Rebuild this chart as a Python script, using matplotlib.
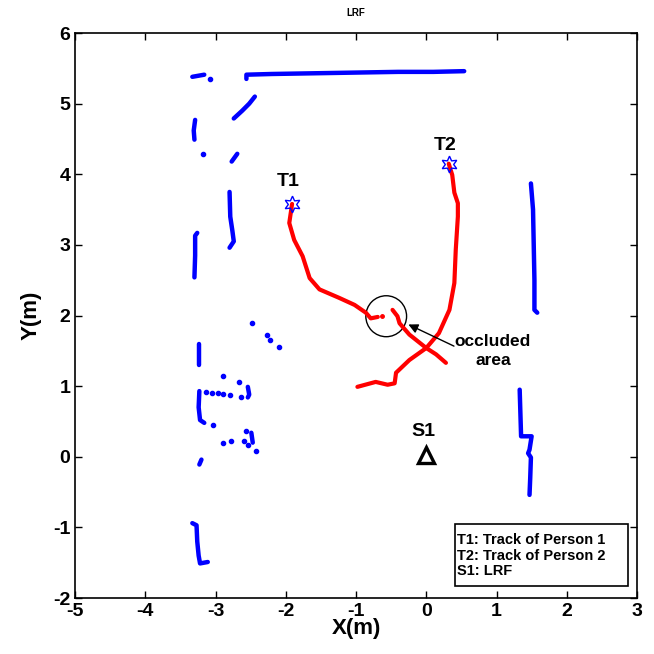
import numpy as np
from matplotlib import pyplot as plt
from matplotlib import patches as ptch

plt.rcParams["font.family"] = ["Liberation Sans", "DejaVu Sans"]
plt.rcParams["axes.unicode_minus"] = False

# laser scan of the walls (x, y in m), one list per visible piece
walls = [
    [(-2.56, 5.35), (-2.56, 5.41), (-2.2, 5.42), (-1.6, 5.43), (-1.0, 5.44), (-0.4, 5.45), (0.1, 5.45), (0.54, 5.46)],
    [(-3.33, 5.38), (-3.16, 5.41)],
    [(-2.74, 4.79), (-2.62, 4.9), (-2.52, 5.0), (-2.44, 5.10)],
    [(-3.29, 4.77), (-3.31, 4.62), (-3.30, 4.49)],
    [(-2.77, 4.18), (-2.69, 4.29)],
    [(-2.80, 3.75), (-2.79, 3.40), (-2.76, 3.20), (-2.74, 3.05), (-2.80, 2.96)],
    [(-3.26, 3.17), (-3.29, 3.13), (-3.29, 2.85), (-3.30, 2.54)],
    [(-3.24, 1.59), (-3.24, 1.30)],
    [(-3.23, 0.93), (-3.24, 0.70), (-3.22, 0.52), (-3.16, 0.48)],
    [(-2.54, 0.99), (-2.52, 0.88), (-2.54, 0.84)],
    [(-2.49, 0.34), (-2.47, 0.20)],
    [(-3.20, -0.04), (-3.23, -0.11)],
    [(-3.33, -0.94), (-3.27, -0.97), (-3.26, -1.2), (-3.24, -1.40), (-3.22, -1.51), (-3.11, -1.49)],
    [(1.49, 3.87), (1.52, 3.5), (1.53, 3.0), (1.54, 2.5), (1.54, 2.08), (1.58, 2.04)],
    [(1.33, 0.95), (1.35, 0.29), (1.50, 0.29), (1.47, 0.10), (1.45, 0.05), (1.49, -0.01), (1.48, -0.3), (1.47, -0.54)],
]
scan_dots_x = [-3.08, -3.18, -2.48, -2.26, -2.22, -2.10, -2.89, -2.67, -3.13, -3.05, -2.97, -2.89, -2.80,
               -2.64, -3.03, -2.90, -2.78, -2.60, -2.56, -2.54, -2.42]
scan_dots_y = [5.35, 4.28, 1.90, 1.72, 1.66, 1.56, 1.15, 1.06, 0.92, 0.91, 0.90, 0.89, 0.88,
               0.84, 0.45, 0.20, 0.23, 0.22, 0.36, 0.16, 0.08]

# tracks
track1_x = [-1.91, -1.95, -1.88, -1.76, -1.66, -1.52, -1.24, -1.02, -0.86, -0.79, -0.69]
track1_y = [3.58, 3.31, 3.07, 2.84, 2.53, 2.37, 2.25, 2.15, 2.04, 1.96, 1.98]
track1_end = (-0.63, 2.00)
track1b_x = [-0.48, -0.41, -0.38, -0.24, 0.00, 0.14, 0.28]
track1b_y = [2.08, 1.99, 1.89, 1.73, 1.54, 1.45, 1.33]
track2_x = [0.32, 0.37, 0.40, 0.45, 0.45, 0.42, 0.40, 0.33, 0.18, 0.00, -0.24, -0.43, -0.45, -0.55, -0.72, -0.98]
track2_y = [4.15, 3.99, 3.74, 3.59, 3.40, 2.93, 2.46, 2.08, 1.75, 1.54, 1.37, 1.19, 1.04, 1.02, 1.06, 0.99]

sensor = (0.0, 0.03)
occl_center = (-0.57, 1.99)
occl_radius = 0.29
legend_lines = ["T1: Track of Person 1", "T2: Track of Person 2", "S1: LRF"]

fig = plt.figure(figsize=(6.54, 6.54), dpi=100)
ax = fig.add_axes([0.1147, 0.0856, 0.8593, 0.8639])

for w in walls:
    w = np.array(w)
    ax.plot(w[:, 0], w[:, 1], "-", color="#0000ff", lw=3.2, solid_capstyle="round")
ax.plot(scan_dots_x, scan_dots_y, ".", color="#0000ff", ms=6)

ax.plot(track1_x, track1_y, "-", color="#ff0000", lw=3, solid_capstyle="round")
ax.plot(*track1_end, ".", color="#ff0000", ms=5)
ax.plot(track1b_x, track1b_y, "-", color="#ff0000", lw=3, solid_capstyle="round")
ax.plot(track2_x, track2_y, "-", color="#ff0000", lw=3, solid_capstyle="round")

ax.plot(track1_x[0], track1_y[0], marker=(6, 1, 0), ms=12, mfc="none", mec="#0000ff", mew=1)
ax.plot(track2_x[0], track2_y[0], marker=(6, 1, 0), ms=12, mfc="none", mec="#0000ff", mew=1)
ax.text(-1.96, 3.78, "T1", fontsize=14, fontweight="bold", ha="center", va="bottom")
ax.text(0.27, 4.29, "T2", fontsize=14, fontweight="bold", ha="center", va="bottom")

ax.plot(*sensor, marker="^", ms=11, mfc="none", mec="black", mew=2.4)
ax.text(-0.04, 0.24, "S1", fontsize=14, fontweight="bold", ha="center", va="bottom")

ax.add_patch(ptch.Circle(occl_center, occl_radius, fill=False, ec="black", lw=1))
ax.annotate("", xy=(-0.29, 1.89), xytext=(0.43, 1.55),
            arrowprops=dict(arrowstyle="-|>", color="black", lw=1, mutation_scale=14))
ax.text(0.95, 1.50, "occluded\narea", fontsize=12.5, fontweight="bold", ha="center", va="center",
        linespacing=1.3)

# legend box
ax.add_patch(ptch.Rectangle((0.41, -1.83), 2.46, 0.88, fill=True, fc="white", ec="black", lw=1.2, zorder=5))
ax.text(0.44, -1.40, "\n".join(legend_lines), fontsize=10.5, fontweight="bold",
        ha="left", va="center", linespacing=1.15, zorder=6)

ax.set_xlim(-5, 3)
ax.set_ylim(-2, 6)
ax.set_xticks(range(-5, 4))
ax.set_yticks(range(-2, 7))
ax.tick_params(direction="in", top=True, right=True, labelsize=14, length=5, width=1)
for lab in ax.get_xticklabels() + ax.get_yticklabels():
    lab.set_fontweight("bold")
for s in ax.spines.values():
    s.set_linewidth(1.2)
ax.set_xlabel("X(m)", fontsize=16, fontweight="bold", labelpad=-1)
ax.set_ylabel("Y(m)", fontsize=16, fontweight="bold", labelpad=8)
ax.set_title("LRF", fontsize=7, fontweight="bold", pad=12)

fig.savefig("out.png", dpi=100)
